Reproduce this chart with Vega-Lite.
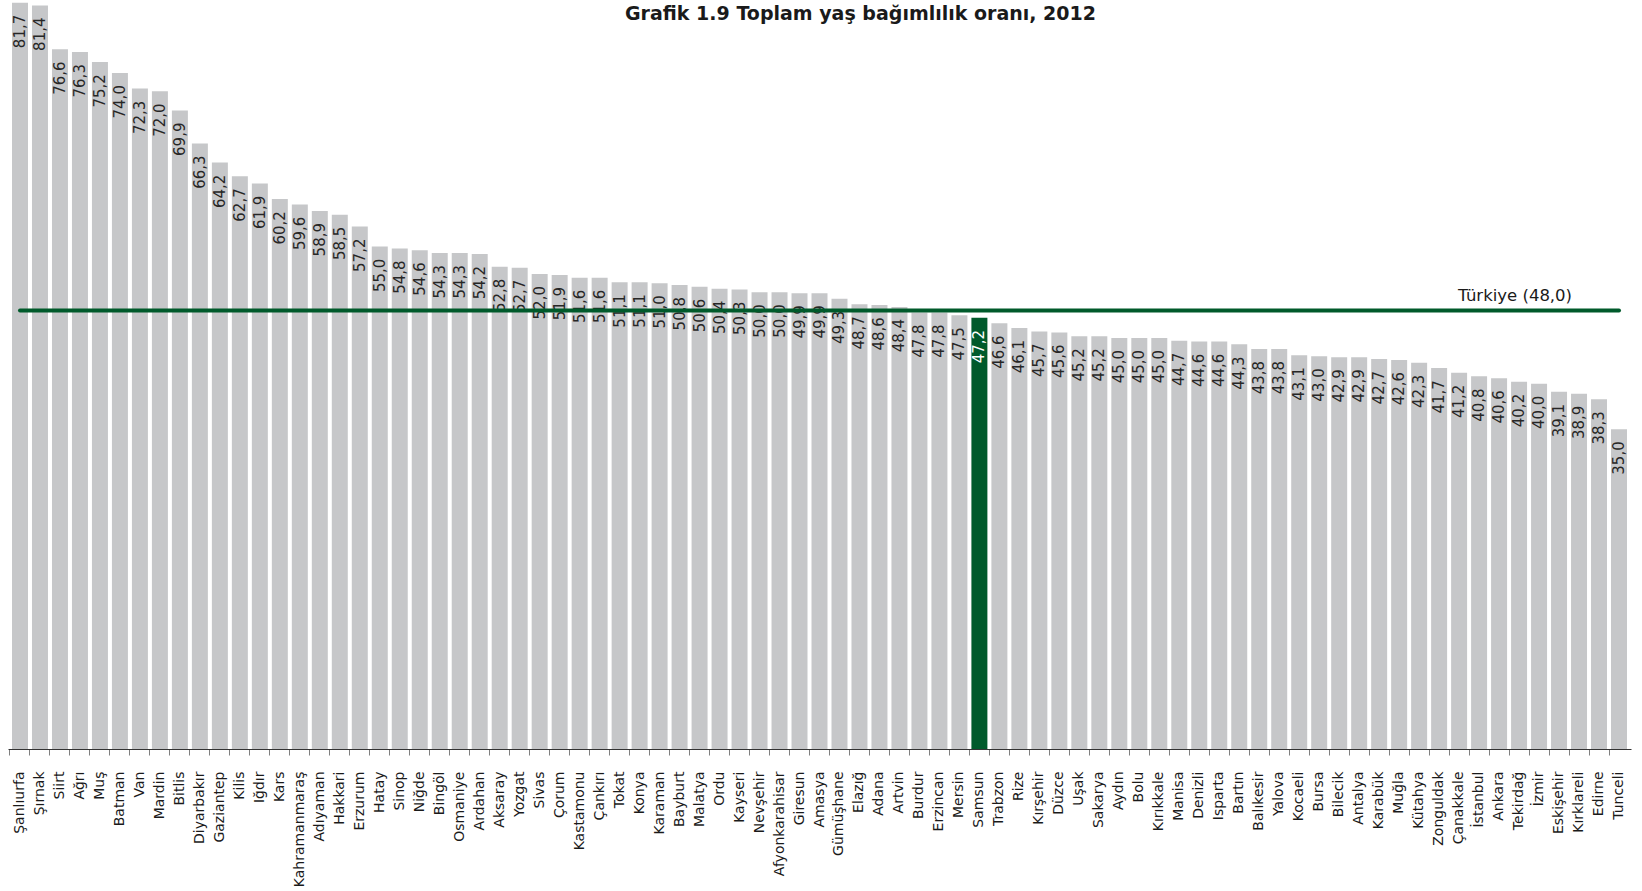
{
  "$schema": "https://vega.github.io/schema/vega-lite/v6.json",
  "autosize": {"type": "none"},
  "width": 1623,
  "height": 749,
  "padding": {"left": 8, "top": 0, "right": 11, "bottom": 142},
  "background": "white",
  "config": {
    "view": {"stroke": null},
    "locale": {"number": {"decimal": ",", "thousands": ".", "grouping": [3], "currency": ["", " TL"]}},
    "font": "DejaVu Sans"
  },
  "title": {
    "text": "Grafik 1.9 Toplam yaş bağımlılık oranı, 2012",
    "font": "DejaVu Sans",
    "fontSize": 19,
    "fontWeight": "bold",
    "color": "#1a1a1a",
    "anchor": "middle",
    "offset": -24,
    "dx": 41
  },
  "data": {
    "values": [
      {"il": "Şanlıurfa", "oran": 81.7},
      {"il": "Şırnak", "oran": 81.4},
      {"il": "Siirt", "oran": 76.6},
      {"il": "Ağrı", "oran": 76.3},
      {"il": "Muş", "oran": 75.2},
      {"il": "Batman", "oran": 74.0},
      {"il": "Van", "oran": 72.3},
      {"il": "Mardin", "oran": 72.0},
      {"il": "Bitlis", "oran": 69.9},
      {"il": "Diyarbakır", "oran": 66.3},
      {"il": "Gaziantep", "oran": 64.2},
      {"il": "Kilis", "oran": 62.7},
      {"il": "Iğdır", "oran": 61.9},
      {"il": "Kars", "oran": 60.2},
      {"il": "Kahramanmaraş", "oran": 59.6},
      {"il": "Adıyaman", "oran": 58.9},
      {"il": "Hakkari", "oran": 58.5},
      {"il": "Erzurum", "oran": 57.2},
      {"il": "Hatay", "oran": 55.0},
      {"il": "Sinop", "oran": 54.8},
      {"il": "Niğde", "oran": 54.6},
      {"il": "Bingöl", "oran": 54.3},
      {"il": "Osmaniye", "oran": 54.3},
      {"il": "Ardahan", "oran": 54.2},
      {"il": "Aksaray", "oran": 52.8},
      {"il": "Yozgat", "oran": 52.7},
      {"il": "Sivas", "oran": 52.0},
      {"il": "Çorum", "oran": 51.9},
      {"il": "Kastamonu", "oran": 51.6},
      {"il": "Çankırı", "oran": 51.6},
      {"il": "Tokat", "oran": 51.1},
      {"il": "Konya", "oran": 51.1},
      {"il": "Karaman", "oran": 51.0},
      {"il": "Bayburt", "oran": 50.8},
      {"il": "Malatya", "oran": 50.6},
      {"il": "Ordu", "oran": 50.4},
      {"il": "Kayseri", "oran": 50.3},
      {"il": "Nevşehir", "oran": 50.0},
      {"il": "Afyonkarahisar", "oran": 50.0},
      {"il": "Giresun", "oran": 49.9},
      {"il": "Amasya", "oran": 49.9},
      {"il": "Gümüşhane", "oran": 49.3},
      {"il": "Elazığ", "oran": 48.7},
      {"il": "Adana", "oran": 48.6},
      {"il": "Artvin", "oran": 48.4},
      {"il": "Burdur", "oran": 47.8},
      {"il": "Erzincan", "oran": 47.8},
      {"il": "Mersin", "oran": 47.5},
      {"il": "Samsun", "oran": 47.2},
      {"il": "Trabzon", "oran": 46.6},
      {"il": "Rize", "oran": 46.1},
      {"il": "Kırşehir", "oran": 45.7},
      {"il": "Düzce", "oran": 45.6},
      {"il": "Uşak", "oran": 45.2},
      {"il": "Sakarya", "oran": 45.2},
      {"il": "Aydın", "oran": 45.0},
      {"il": "Bolu", "oran": 45.0},
      {"il": "Kırıkkale", "oran": 45.0},
      {"il": "Manisa", "oran": 44.7},
      {"il": "Denizli", "oran": 44.6},
      {"il": "Isparta", "oran": 44.6},
      {"il": "Bartın", "oran": 44.3},
      {"il": "Balıkesir", "oran": 43.8},
      {"il": "Yalova", "oran": 43.8},
      {"il": "Kocaeli", "oran": 43.1},
      {"il": "Bursa", "oran": 43.0},
      {"il": "Bilecik", "oran": 42.9},
      {"il": "Antalya", "oran": 42.9},
      {"il": "Karabük", "oran": 42.7},
      {"il": "Muğla", "oran": 42.6},
      {"il": "Kütahya", "oran": 42.3},
      {"il": "Zonguldak", "oran": 41.7},
      {"il": "Çanakkale", "oran": 41.2},
      {"il": "İstanbul", "oran": 40.8},
      {"il": "Ankara", "oran": 40.6},
      {"il": "Tekirdağ", "oran": 40.2},
      {"il": "İzmir", "oran": 40.0},
      {"il": "Eskişehir", "oran": 39.1},
      {"il": "Kırklareli", "oran": 38.9},
      {"il": "Edirne", "oran": 38.3},
      {"il": "Tunceli", "oran": 35.0}
    ]
  },
  "encoding": {
    "x": {
      "field": "il",
      "type": "nominal",
      "sort": null,
      "scale": {"paddingInner": 0.2, "paddingOuter": 0.2},
      "axis": {
        "title": null,
        "labelAngle": -90,
        "labelAlign": "right",
        "labelBaseline": "middle",
        "labelFont": "DejaVu Sans",
        "labelFontSize": 14,
        "labelColor": "#1a1a1a",
        "labelPadding": 16,
        "tickSize": 6,
        "tickColor": "#7f7f7f",
        "domainColor": "#333333",
        "bandPosition": -0.125,
        "labelOverlap": false,
        "labelLimit": 200
      }
    }
  },
  "layer": [
    {
      "mark": {"type": "bar"},
      "encoding": {
        "y": {"field": "oran", "type": "quantitative", "scale": {"domain": [0, 82], "nice": false}, "axis": null},
        "color": {
          "condition": {"test": "datum.il === 'Samsun'", "value": "#005a2b"},
          "value": "#c6c7c9"
        }
      }
    },
    {
      "mark": {"type": "text", "angle": 270, "align": "right", "baseline": "middle", "dx": -12, "fontSize": 15, "font": "DejaVu Sans"},
      "encoding": {
        "y": {"field": "oran", "type": "quantitative"},
        "text": {"field": "oran", "type": "quantitative", "format": ".1f"},
        "color": {
          "condition": {"test": "datum.il === 'Samsun'", "value": "#ffffff"},
          "value": "#262626"
        }
      }
    },
    {
      "transform": [{"filter": "datum.il === 'Şanlıurfa'"}],
      "mark": {"type": "rule", "color": "#005a2b", "strokeWidth": 4, "strokeCap": "round"},
      "encoding": {
        "x": {"datum": "Şanlıurfa"},
        "x2": {"datum": "Tunceli"},
        "y": {"datum": 48}
      }
    },
    {
      "transform": [{"filter": "datum.il === 'Şanlıurfa'"}],
      "mark": {"type": "text", "fontSize": 16.5, "font": "DejaVu Sans", "baseline": "bottom", "align": "center", "dy": -7, "dx": -4, "color": "#1a1a1a"},
      "encoding": {
        "x": {"datum": "Tekirdağ"},
        "y": {"datum": 48},
        "text": {"value": "Türkiye (48,0)"}
      }
    }
  ]
}
